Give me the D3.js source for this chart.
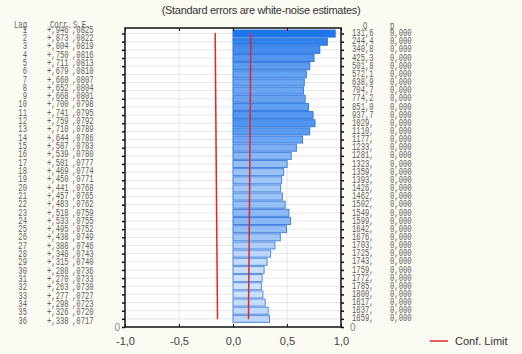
<!DOCTYPE html>
<html>
<head>
<meta charset="utf-8">
<script src="https://cdn.jsdelivr.net/npm/d3@7"></script>
<style>
  html, body { margin: 0; padding: 0; background: #fbfbf3; }
  svg { display: block; }
</style>
</head>
<body>
<div id="chart"></div>
<script>
const width = 522;
const height = 354;

// data
const lags = [1,2,3,4,5,6,7,8,9,10,11,12,13,14,15,16,17,18,19,20,21,22,23,24,25,26,27,28,29,30,31,32,33,34,35,36];
const corr = [.946,.873,.804,.750,.711,.679,.660,.652,.668,.700,.741,.759,.710,.644,.587,.539,.501,.469,.450,.441,.457,.483,.518,.533,.495,.438,.388,.348,.315,.288,.270,.263,.277,.298,.326,.338];
const stdErr = [.0825,.0822,.0819,.0816,.0813,.0810,.0807,.0804,.0801,.0798,.0795,.0792,.0789,.0786,.0783,.0780,.0777,.0774,.0771,.0768,.0765,.0762,.0759,.0755,.0752,.0749,.0746,.0743,.0740,.0736,.0733,.0730,.0727,.0723,.0720,.0717];
const qLabels = ["131,6","244,4","340,8","425,3","501,8","572,1","638,9","704,7","774,2","851,0","937,7","1029,","1110,","1177,","1233,","1281,","1323,","1359,","1393,","1426,","1462,","1502,","1549,","1599,","1642,","1676,","1703,","1725,","1743,","1759,","1772,","1785,","1800,","1817,","1837,","1859,"];
const pLabels = lags.map(() => "0,000");
const xTicks = [-1, -0.5, 0, 0.5, 1];

const frame = { left: 125, right: 341, top: 28, bottom: 327 };

const svg = d3.select("#chart")
  .append("svg")
  .attr("width", width)
  .attr("height", height);

const x = d3.scaleLinear()
  .domain([-1, 1])
  .range([frame.left, frame.right]);

// lag 1 at the top, position 0 at the bottom edge
const y = d3.scaleLinear()
  .domain([0, 36.68])
  .range([frame.bottom, frame.top]);
const pos = lag => 37 - lag;

// left text rows sit a little differently from the bars
const yText = d3.scaleLinear()
  .domain([1, 36])
  .range([30, 321]);

const fmt = (v, digits) => v.toFixed(digits).replace(/^0\./, ",");

svg.append("text")
  .attr("x", 261)
  .attr("y", 14)
  .attr("text-anchor", "middle")
  .attr("font-family", "Liberation Sans, Arial, sans-serif")
  .attr("font-size", 11)
  .attr("letter-spacing", -0.3)
  .attr("fill", "#333")
  .text("(Standard errors are white-noise estimates)");

// plot area
svg.append("rect")
  .attr("x", frame.left)
  .attr("y", frame.top)
  .attr("width", frame.right - frame.left)
  .attr("height", frame.bottom - frame.top)
  .attr("fill", "#fff");

// grid
svg.append("g")
  .selectAll("line")
  .data(lags)
  .join("line")
  .attr("x1", frame.left)
  .attr("x2", frame.right)
  .attr("y1", d => y(pos(d)))
  .attr("y2", d => y(pos(d)))
  .attr("stroke", "#e6e6e6")
  .attr("stroke-width", 1);

svg.append("g")
  .selectAll("line")
  .data([-0.5, 0, 0.5])
  .join("line")
  .attr("x1", d => x(d))
  .attr("x2", d => x(d))
  .attr("y1", frame.top)
  .attr("y2", frame.bottom)
  .attr("stroke", "#e6e6e6")
  .attr("stroke-width", 1);

// bars
const color = d3.scaleLinear()
  .domain([d3.min(corr), d3.max(corr)])
  .range(["#cfe3fb", "#1f76ea"]);
const stroke = d3.scaleLinear()
  .domain([d3.min(corr), d3.max(corr)])
  .range(["#5b8fe0", "#1f6fe0"]);

const barH = 7;
svg.append("g")
  .selectAll("rect")
  .data(lags)
  .join("rect")
  .attr("x", x(0))
  .attr("y", (d, i) => y(pos(d)) - barH / 2)
  .attr("width", (d, i) => x(corr[i]) - x(0))
  .attr("height", barH)
  .attr("fill", (d, i) => color(corr[i]))
  .attr("stroke", (d, i) => stroke(corr[i]))
  .attr("stroke-width", 1);

// confidence limits, +/- 2 SE
const limitLine = d3.line()
  .x(d => x(d[1]))
  .y(d => y(pos(d[0])))
  .curve(d3.curveStep);

[1, -1].forEach(sign => {
  svg.append("path")
    .datum(lags.map((l, i) => [l, sign * 2 * stdErr[i]]))
    .attr("d", limitLine)
    .attr("fill", "none")
    .attr("stroke", "#e4262c")
    .attr("stroke-width", 1.5);
});

// frame
svg.append("rect")
  .attr("x", frame.left)
  .attr("y", frame.top)
  .attr("width", frame.right - frame.left)
  .attr("height", frame.bottom - frame.top)
  .attr("fill", "none")
  .attr("stroke", "#111")
  .attr("stroke-width", 1.5);

// x axis
const xAxis = svg.append("g")
  .attr("transform", `translate(0,${frame.bottom})`)
  .call(d3.axisBottom(x).tickValues(xTicks).tickSize(-3).tickPadding(10)
    .tickFormat(d => d3.format(".1f")(d).replace(".", ",").replace("−", "-")));
xAxis.select(".domain").remove();
xAxis.selectAll("line").attr("stroke", "#111");
xAxis.selectAll("text")
  .attr("font-family", "Liberation Sans, Arial, sans-serif")
  .attr("font-size", 11)
  .attr("fill", "#444");

const xTop = svg.append("g")
  .attr("transform", `translate(0,${frame.top})`)
  .call(d3.axisTop(x).tickValues(xTicks).tickSize(-3).tickFormat(""));
xTop.select(".domain").remove();
xTop.selectAll("line").attr("stroke", "#111");

// lag ticks on both sides
const yLeft = svg.append("g")
  .attr("transform", `translate(${frame.left},0)`)
  .call(d3.axisLeft(y).tickValues([0].concat(lags.map(pos))).tickSize(3).tickPadding(2)
    .tickFormat(d => d === 0 ? "0" : ""));
yLeft.select(".domain").remove();

const yRight = svg.append("g")
  .attr("transform", `translate(${frame.right},0)`)
  .call(d3.axisRight(y).tickValues([0].concat(lags.map(pos))).tickSize(3).tickPadding(6)
    .tickFormat(d => d === 0 ? "0" : ""));
yRight.select(".domain").remove();

[yLeft, yRight].forEach(g => {
  g.selectAll("line").attr("stroke", "#111").attr("stroke-width", 1.5);
  g.selectAll("text")
    .attr("font-family", "Liberation Sans, Arial, sans-serif")
    .attr("font-size", 10)
    .attr("fill", "#888");
});

// text table, narrow monospace like the original
const mono = "Liberation Mono, Courier New, monospace";
function cell(xPos, yPos, txt, anchor) {
  svg.append("text")
    .attr("transform", `translate(${xPos},${yPos}) scale(0.72,1)`)
    .attr("text-anchor", anchor || "start")
    .attr("dominant-baseline", "middle")
    .attr("font-family", mono)
    .attr("font-size", 10)
    .attr("fill", "#606060")
    .text(txt);
}

cell(14, 25, "Lag");
cell(50, 25, "Corr.");
cell(73, 25, "S.E.");
cell(363, 26, "Q");
cell(390, 26, "p");

lags.forEach((l, i) => {
  const ty = yText(l);
  cell(27, ty, String(l), "end");
  cell(47, ty, "+" + fmt(corr[i], 3));
  cell(72, ty, fmt(stdErr[i], 4));
  const ry = y(pos(l));
  cell(352, ry, qLabels[i]);
  cell(390, ry, pLabels[i]);
});

// legend
svg.append("line")
  .attr("x1", 430)
  .attr("x2", 448)
  .attr("y1", 341)
  .attr("y2", 341)
  .attr("stroke", "#e4262c")
  .attr("stroke-width", 1.5);

svg.append("text")
  .attr("x", 455)
  .attr("y", 345)
  .attr("font-family", "Liberation Sans, Arial, sans-serif")
  .attr("font-size", 11)
  .attr("fill", "#333")
  .text("Conf. Limit");
</script>
</body>
</html>
